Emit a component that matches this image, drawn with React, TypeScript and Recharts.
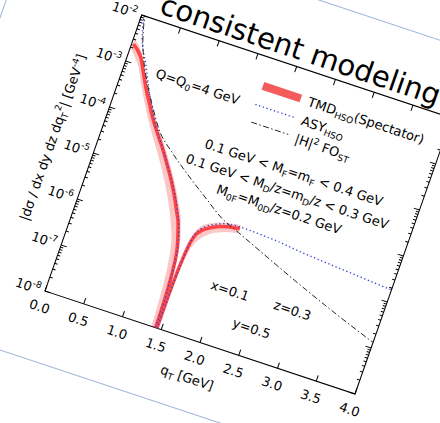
import { Area, ComposedChart, Line, ReferenceArea, XAxis, YAxis } from "recharts";

// q_T [GeV] and log10 |dσ/dx dy dz dq_T^2|
const tmdQ = [0.02, 0.1, 0.16, 0.25, 0.34, 0.45, 0.56, 0.67, 0.78, 0.9, 1.0, 1.1, 1.2, 1.26, 1.3, 1.34, 1.38, 1.405, 1.42, 1.43, 1.435, 1.442, 1.445, 1.45, 1.46, 1.475, 1.5, 1.55, 1.6, 1.655, 1.75, 1.85, 1.95, 2.0];
const tmdLog = [-2.62, -2.72, -2.83, -3.1, -3.38, -3.68, -3.97, -4.22, -4.46, -4.75, -5.0, -5.28, -5.6, -5.8, -6.0, -6.22, -6.55, -7.0, -7.5, -8.3, -9.5, -9.5, -7.4, -6.9, -6.5, -6.2, -5.99, -5.84, -5.76, -5.7, -5.62, -5.57, -5.54, -5.53];
const tmdLoLog = [-2.74, -2.88, -3.0, -3.27, -3.55, -3.86, -4.15, -4.42, -4.68, -4.99, -5.27, -5.58, -5.95, -6.22, -6.55, -7.1, -8.2, -9.5, -9.5, -9.5, -9.5, -9.5, -9.5, -7.8, -7.1, -6.65, -6.32, -6.06, -5.94, -5.85, -5.75, -5.68, -5.64, -5.62];
const tmdHiLog = [-2.52, -2.63, -2.75, -3.02, -3.3, -3.6, -3.89, -4.14, -4.37, -4.65, -4.89, -5.16, -5.46, -5.65, -5.83, -6.03, -6.32, -6.7, -7.1, -7.7, -8.6, -8.6, -7.0, -6.6, -6.3, -6.02, -5.85, -5.72, -5.65, -5.6, -5.53, -5.49, -5.46, -5.45];

const asyQ = [0.02, 0.05, 0.1, 0.16, 0.24, 0.32, 0.4, 0.5, 0.6, 0.7, 0.8, 0.9, 1.0, 1.1, 1.2, 1.3, 1.34, 1.38, 1.41, 1.425, 1.432, 1.442, 1.448, 1.455, 1.47, 1.5, 1.55, 1.6, 1.7, 1.8, 1.9, 2.0, 2.2, 2.5, 2.83, 3.2, 3.6, 4.0];
const asyLog = [-1.9, -2.15, -2.45, -2.68, -2.91, -3.18, -3.45, -3.75, -4.05, -4.27, -4.5, -4.74, -4.99, -5.25, -5.55, -5.96, -6.18, -6.52, -7.1, -7.8, -9.5, -9.5, -7.6, -6.9, -6.35, -5.95, -5.78, -5.7, -5.6, -5.53, -5.5, -5.49, -5.5, -5.53, -5.59, -5.64, -5.69, -5.74];

const foQ = [0.03, 0.06, 0.1, 0.2, 0.34, 0.5, 0.69, 0.9, 1.17, 1.5, 1.75, 2.0, 2.5, 3.0, 3.5, 4.0];
const foLog = [-1.9, -2.15, -2.4, -2.84, -3.29, -3.72, -4.17, -4.47, -4.8, -5.17, -5.44, -5.61, -5.95, -6.28, -6.59, -6.88];

const xTicks = [0, 0.5, 1, 1.5, 2, 2.5, 3, 3.5, 4];
const yDecades = [-8, -7, -6, -5, -4, -3, -2];

const tmdData = tmdQ.map((q, i) => ({
  q,
  v: 10 ** tmdLog[i],
  band: [10 ** tmdLoLog[i], 10 ** tmdHiLog[i]],
}));
const asyData = asyQ.map((q, i) => ({ q, v: 10 ** asyLog[i] }));
const foData = foQ.map((q, i) => ({ q, v: 10 ** foLog[i] }));

// major + minor log ticks
const yTicks: number[] = [];
yDecades.forEach((d) => {
  yTicks.push(10 ** d);
  if (d < -2) for (let m = 2; m < 10; m++) yTicks.push(m * 10 ** d);
});

const FONT = "DejaVu Sans";
const CW = 427;
const CH = 432;
const PL = 70;
const PT = 80;
const PW = 327;
const PH = 292;

const RED = "#ff2a2a";
const BLUE = "#3040d8";

const XTick = (props: any) => {
  const { x, payload } = props;
  return (
    <g>
      <line x1={x} x2={x} y1={PT + PH} y2={PT + PH - 6} stroke="#000" />
      <line x1={x} x2={x} y1={PT} y2={PT + 6} stroke="#000" />
      <text x={x} y={PT + PH + 21} textAnchor="middle" fontFamily={FONT} fontSize={13} fill="#000">
        {payload.value.toFixed(1)}
      </text>
    </g>
  );
};

const YTick = (props: any) => {
  const { y, payload } = props;
  const v = payload.value;
  const exp = Math.round(Math.log10(v));
  const major = Math.abs(v - 10 ** exp) / v < 1e-6;
  const len = major ? 6 : 3;
  return (
    <g>
      <line x1={PL} x2={PL + len} y1={y} y2={y} stroke="#000" />
      <line x1={PL + PW - len} x2={PL + PW} y1={y} y2={y} stroke="#000" />
      {major && (
        <text x={PL - 5} y={y + 5} textAnchor="end" fontFamily={FONT} fontSize={13} fill="#000">
          10<tspan dy={-6} fontSize={9}>{`-${-exp}`}</tspan>
        </text>
      )}
    </g>
  );
};

const t = (x: number, y: number, extra: any = {}) => ({
  x,
  y,
  fontFamily: FONT,
  fontSize: 13,
  fill: "#000",
  ...extra,
});

const Annotations = () => (
  <svg
    width={CW}
    height={CH}
    style={{ position: "absolute", left: 0, top: 0, overflow: "visible", pointerEvents: "none" }}
  >
    <rect x={-63} y={10} width={800} height={432} fill="none" stroke="#9db3d6" strokeWidth={1} />
    <text {...t(85, 73, { fontSize: 29 })}>consistent modeling</text>

    <text {...t(103, 135)}>
      Q=Q<tspan dy={3} fontSize={9}>0</tspan>
      <tspan dy={-3}>=4 GeV</tspan>
    </text>

    <rect x={208} y={105} width={40} height={8} fill="#f45c5c" />
    <line x1={207} x2={248} y1={129} y2={129} stroke={BLUE} strokeWidth={1.3} strokeDasharray="1.3 2.6" />
    <line x1={209} x2={248} y1={147} y2={147} stroke="#222" strokeWidth={0.9} strokeDasharray="6 2.5 1.5 2.5" />
    <text {...t(256, 114)}>
      TMD<tspan dy={3} fontSize={9}>HSO</tspan>
      <tspan dy={-3}>(Spectator)</tspan>
    </text>
    <text {...t(256, 134)}>
      ASY<tspan dy={3} fontSize={9}>HSO</tspan>
    </text>
    <text {...t(256, 153)}>
      |H|<tspan dy={-5} fontSize={9}>2</tspan>
      <tspan dy={5}> FO</tspan>
      <tspan dy={3} fontSize={9}>ST</tspan>
    </text>

    <text {...t(266, 186, { textAnchor: "middle" })}>
      0.1 GeV &lt; M<tspan dy={3} fontSize={9}>F</tspan>
      <tspan dy={-3}>=m</tspan>
      <tspan dy={3} fontSize={9}>F</tspan>
      <tspan dy={-3}> &lt; 0.4 GeV</tspan>
    </text>
    <text {...t(266, 206, { textAnchor: "middle" })}>
      0.1 GeV &lt; M<tspan dy={3} fontSize={9}>D</tspan>
      <tspan dy={-3}>/z=m</tspan>
      <tspan dy={3} fontSize={9}>D</tspan>
      <tspan dy={-3}>/z &lt; 0.3 GeV</tspan>
    </text>
    <text {...t(264, 225.5, { textAnchor: "middle" })}>
      M<tspan dy={3} fontSize={9}>0F</tspan>
      <tspan dy={-3}>=M</tspan>
      <tspan dy={3} fontSize={9}>0D</tspan>
      <tspan dy={-3}>/z=0.2 GeV</tspan>
    </text>

    <text {...t(225, 318)}>x=0.1</text>
    <text {...t(291, 317)}>z=0.3</text>
    <text {...t(258, 347)}>y=0.5</text>

    <text {...t(233, 414, { textAnchor: "middle" })}>
      q<tspan dy={3} fontSize={9}>T</tspan>
      <tspan dy={-3}> [GeV]</tspan>
    </text>
    <text {...t(31, 224, { textAnchor: "middle", transform: "rotate(-90 31 224)" })}>
      |dσ / dx dy dz dq<tspan dy={3} fontSize={9}>T</tspan>
      <tspan dy={-9} fontSize={9}>2</tspan>
      <tspan dy={6}>| [GeV</tspan>
      <tspan dy={-5} fontSize={9}>-4</tspan>
      <tspan dy={5}>]</tspan>
    </text>
  </svg>
);

export default function App() {
  return (
    <div style={{ position: "absolute", left: 0, top: 0, width: 440, height: 423, overflow: "hidden", background: "#fff" }}>
      <div
        style={{
          position: "absolute",
          left: 0,
          top: 0,
          width: CW,
          height: CH,
          transformOrigin: "0 0",
          transform: "matrix(0.948, 0.315, -0.3312, 0.9452, 101.84, -82.67)",
        }}
      >
        <ComposedChart width={CW} height={CH} margin={{ top: PT, right: CW - PL - PW, bottom: 10, left: 10 }}>
          <XAxis
            dataKey="q"
            type="number"
            domain={[0, 4]}
            ticks={xTicks}
            interval={0}
            allowDataOverflow
            axisLine={false}
            tickLine={false}
            tickSize={0}
            height={50}
            tick={XTick}
          />
          <YAxis
            type="number"
            scale="log"
            domain={[1e-8, 1e-2]}
            ticks={yTicks}
            interval={0}
            allowDataOverflow
            axisLine={false}
            tickLine={false}
            tickSize={0}
            width={60}
            tick={YTick}
          />
          <Area
            data={tmdData}
            dataKey="band"
            type="monotone"
            stroke="none"
            fill="#f7a0a0"
            fillOpacity={0.6}
            isAnimationActive={false}
          />
          <Line
            data={tmdData}
            dataKey="v"
            type="monotone"
            stroke={RED}
            strokeWidth={3.5}
            strokeOpacity={0.85}
            dot={false}
            isAnimationActive={false}
          />
          <Line
            data={asyData}
            dataKey="v"
            type="monotone"
            stroke={BLUE}
            strokeWidth={1.3}
            strokeDasharray="1.3 2.6"
            dot={false}
            isAnimationActive={false}
          />
          <Line
            data={foData}
            dataKey="v"
            type="monotone"
            stroke="#222"
            strokeWidth={0.9}
            strokeDasharray="6 2.5 1.5 2.5"
            dot={false}
            isAnimationActive={false}
          />
          <ReferenceArea x1={0} x2={4} y1={1e-8} y2={1e-2} fill="none" stroke="#000" strokeWidth={1} />
        </ComposedChart>
        <Annotations />
      </div>
    </div>
  );
}
